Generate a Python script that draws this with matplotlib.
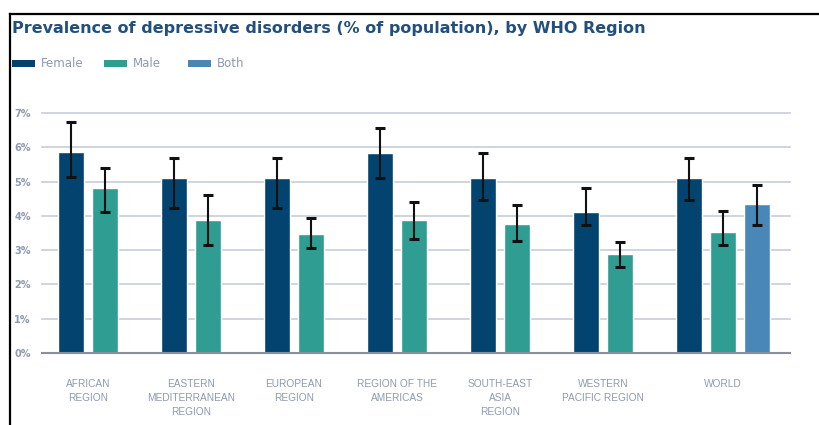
import matplotlib
matplotlib.use("Agg")
import matplotlib.pyplot as plt
import matplotlib.patheffects as pe
from matplotlib.patches import Rectangle
from matplotlib.lines import Line2D
import numpy as np

categories = ["AFRICAN\nREGION", "EASTERN\nMEDITERRANEAN\nREGION", "EUROPEAN\nREGION",
              "REGION OF THE\nAMERICAS", "SOUTH-EAST\nASIA\nREGION", "WESTERN\nPACIFIC REGION", "WORLD"]
series_names = ["Female", "Male", "Both"]
female = [5.87, 5.11, 5.11, 5.82, 5.11, 4.11, 5.11]
female_lo = [5.14, 4.22, 4.22, 5.09, 4.45, 3.74, 4.45]
female_hi = [6.74, 5.70, 5.70, 6.56, 5.83, 4.80, 5.70]
male = [4.82, 3.89, 3.48, 3.88, 3.76, 2.88, 3.53]
male_lo = [4.11, 3.16, 3.07, 3.33, 3.26, 2.52, 3.16]
male_hi = [5.39, 4.62, 3.93, 4.41, 4.33, 3.25, 4.14]
both = [None, None, None, None, None, None, 4.35]
both_lo = [None, None, None, None, None, None, 3.74]
both_hi = [None, None, None, None, None, None, 4.89]
yticks = [0, 1, 2, 3, 4, 5, 6, 7]
ytick_labels = ["0%", "1%", "2%", "3%", "4%", "5%", "6%", "7%"]

colors = ["#02446f", "#2f9d92", "#4a87b9"]
title_color = "#234f7d"
text_grey = "#8e9ab0"

fig = plt.figure(figsize=(8.2, 4.25), dpi=100)
ax = fig.add_axes([42/820, 1-353/425, (790-42)/820, (353-113)/425])

step = 0.33
width = 0.245
gap = 0.34
series = [(female, female_lo, female_hi), (male, male_lo, male_hi), (both, both_lo, both_hi)]

# compute group centers from number of bars per group
nbars = [sum(1 for s in series if s[0][i] is not None) for i in range(len(categories))]
centers = []
pos = 0.0
prev_w = None
for i, n in enumerate(nbars):
    w = n * step + gap
    if prev_w is None:
        pos = 0.0
    else:
        pos += prev_w / 2 + w / 2
    centers.append(pos)
    prev_w = w

shadow = [pe.SimplePatchShadow(offset=(1.2, -1.2), shadow_rgbFace="#9a9a9a", alpha=0.45), pe.Normal()]
for si, (vals, lo, hi) in enumerate(series):
    for i, v in enumerate(vals):
        if v is None:
            continue
        n = nbars[i]
        x = centers[i] + (si - (n - 1) / 2) * step
        b = ax.bar(x, v, width=width, color=colors[si], edgecolor="white", linewidth=1.0, zorder=3)
        for p in b:
            p.set_path_effects(shadow)
        ax.errorbar(x, v, yerr=[[v - lo[i]], [hi[i] - v]], fmt="none", ecolor="#111111",
                    elinewidth=1.5, capsize=3.5, capthick=2.2, zorder=4)

ax.set_xlim(-0.447, 6.816)
ax.set_ylim(0, 7)
ax.set_yticks(yticks)
ax.set_yticklabels(ytick_labels)
ax.set_xticks(centers)
ax.set_xticklabels(categories, linespacing=1.45)
for gl in ax.get_ygridlines():
    gl.set_clip_on(False)
ax.grid(axis="y", color="#cdd1dc", linewidth=1.3, zorder=0)
for gl in ax.get_ygridlines():
    gl.set_clip_on(False)
ax.set_axisbelow(True)
for s in ["top", "right", "left"]:
    ax.spines[s].set_visible(False)
ax.spines["bottom"].set_color("#8a8f9a")
ax.spines["bottom"].set_linewidth(1.5)
ax.spines["bottom"].set_zorder(5)
ax.tick_params(axis="y", length=0, pad=8, labelsize=7, labelcolor=text_grey)
ax.tick_params(axis="x", length=0, pad=19, labelsize=7.3, labelcolor=text_grey)
for lbl in ax.get_xticklabels():
    lbl.set_fontfamily(["Liberation Sans", "DejaVu Sans"])
    lbl.set_va("top")
for lbl in ax.get_yticklabels():
    lbl.set_fontweight("bold")

# title
fig.text(12/820, 1-28/425, "Prevalence of depressive disorders (% of population), by WHO Region",
         fontsize=11.5, fontweight="heavy", color=title_color, va="center", ha="left")

# legend
leg_x = [12, 104, 188]
for si, name in enumerate(series_names):
    x0 = leg_x[si] / 820
    fig.patches.append(Rectangle((x0, 1-67/425), 23/820, 7/425, transform=fig.transFigure,
                                 facecolor=colors[si], edgecolor="none"))
    fig.text(x0 + 29/820, 1-63.5/425, name, fontsize=8.5, color=text_grey, va="center", ha="left")

# frame lines
fig.add_artist(Line2D([10/820, 10/820], [0, 1-14/425], transform=fig.transFigure, color="black", linewidth=1.6))
fig.add_artist(Line2D([10/820, 1], [1-14/425, 1-14/425], transform=fig.transFigure, color="black", linewidth=1.6))

fig.savefig("out.png", dpi=100)
